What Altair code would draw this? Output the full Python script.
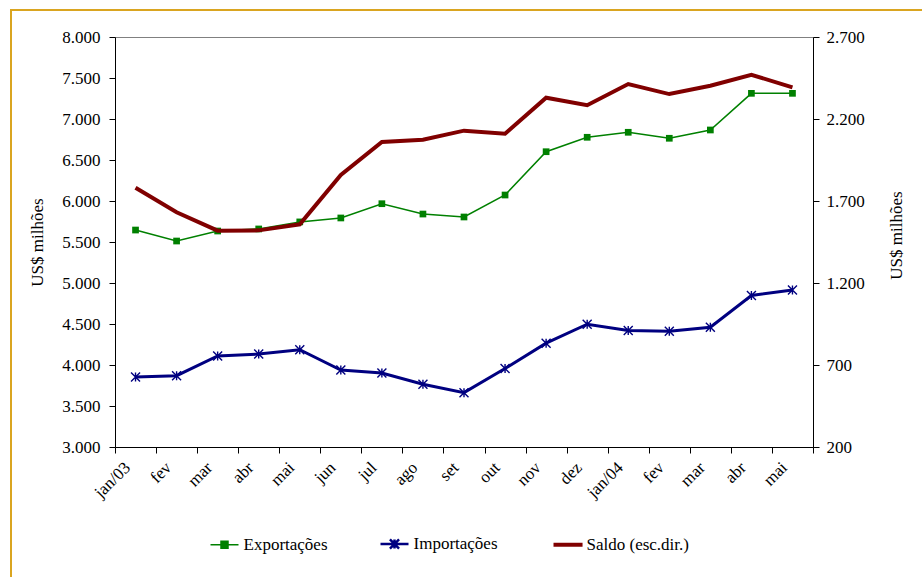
import altair as alt
import pandas as pd

meses = ["jan/03", "fev", "mar", "abr", "mai", "jun", "jul", "ago", "set", "out",
         "nov", "dez", "jan/04", "fev", "mar", "abr", "mai"]
exportacoes = [5646, 5512, 5634, 5659, 5745, 5793, 5967, 5841, 5805, 6073,
               6601, 6777, 6838, 6765, 6866, 7313, 7313]
importacoes = [3854, 3870, 4110, 4134, 4187, 3939, 3902, 3765, 3663, 3957,
               4266, 4497, 4420, 4412, 4461, 4847, 4915]
saldo = [1781, 1631, 1519, 1521, 1558, 1859, 2060, 2074, 2129, 2110,
         2330, 2284, 2413, 2352, 2403, 2470, 2393]
series = ["Exportações", "Importações", "Saldo (esc.dir.)"]
cores = ["#008000", "#000080", "#800000"]
ticks_esq = [3000, 3500, 4000, 4500, 5000, 5500, 6000, 6500, 7000, 7500, 8000]
ticks_dir = [200, 700, 1200, 1700, 2200, 2700]

FONT = "Liberation Serif, Times New Roman, Times, DejaVu Serif, serif"
FS = 17

df = pd.DataFrame({
    "idx": list(range(len(meses))),
    "exp": exportacoes,
    "imp": importacoes,
    "sal": saldo,
})

label_expr_x = "[" + ",".join("'%s'" % m for m in meses) + "][datum.value]"
num_expr = "replace(format(datum.value, ','), ',', '.')"

x_enc = alt.X(
    "idx:O",
    scale=alt.Scale(type="band", paddingInner=0, paddingOuter=0),
    axis=alt.Axis(
        title=None, tickBand="extent", labelAngle=-45, labelExpr=label_expr_x,
        domainColor="black", tickColor="black", tickSize=6, labelPadding=6,
        labelOffset=-14,
        labelFont=FONT, labelFontSize=FS, labelColor="black",
    ),
)

axis_esq = alt.Axis(
    values=ticks_esq, labelExpr=num_expr, grid=False,
    domainColor="black", tickColor="black", tickSize=6, labelPadding=9,
    labelFont=FONT, labelFontSize=FS, labelColor="black",
    title="US$ milhões", titleFont=FONT, titleFontSize=FS, titleFontWeight="normal",
    titleColor="black", titleX=-78, titleY=205, titleAngle=270,
    titleBaseline="middle", titleAlign="center",
)
axis_dir = alt.Axis(
    orient="right", values=ticks_dir, labelExpr=num_expr, grid=False,
    domainColor="black", tickColor="black", tickSize=6, labelPadding=7,
    labelFont=FONT, labelFontSize=FS, labelColor="black",
    title="US$ milhões", titleFont=FONT, titleFontSize=FS, titleFontWeight="normal",
    titleColor="black", titleX=83, titleY=198, titleAngle=270,
    titleBaseline="middle", titleAlign="center",
)
y_esq_scale = alt.Scale(domain=[3000, 8000], nice=False, zero=False)
y_dir_scale = alt.Scale(domain=[200, 2700], nice=False, zero=False)

base = alt.Chart(df)

exp_line = base.mark_line(color=cores[0], strokeWidth=1.5).encode(
    x=x_enc, y=alt.Y("exp:Q", scale=y_esq_scale, axis=axis_esq))
exp_pts = base.mark_point(shape="square", filled=True, color=cores[0], size=45, opacity=1).encode(
    x=x_enc, y=alt.Y("exp:Q", scale=y_esq_scale, axis=axis_esq))

star = "M0,-1V1M-1,-1L1,1M-1,1L1,-1"
imp_line = base.mark_line(color=cores[1], strokeWidth=3).encode(
    x=x_enc, y=alt.Y("imp:Q", scale=y_esq_scale, axis=axis_esq))
imp_pts = base.mark_point(shape=star, filled=False, color=cores[1], size=81,
                          strokeWidth=1.4, opacity=1).encode(
    x=x_enc, y=alt.Y("imp:Q", scale=y_esq_scale, axis=axis_esq))

# legend-only layer (no visible points: y is null)
leg_df = pd.DataFrame({"serie": series, "idx": [0, 0, 0], "exp": [None, None, None]})
leg = alt.Legend(
    title=None, orient="none", legendX=101, legendY=498, direction="horizontal",
    symbolSize=49, labelOffset=10.5, columnPadding=47, padding=0, rowPadding=0,
    labelFont=FONT, labelFontSize=FS, labelColor="black",
)
shape_paths = [
    "M-4,0H4M-1,-1H1V1H-1Z",
    "M-4,0H4M0,-1.3V1.3M-1.3,-1.3L1.3,1.3M-1.3,1.3L1.3,-1.3",
    "M-4,0H4.3",
]
legend_layer = alt.Chart(leg_df).mark_point(filled=True, opacity=1).encode(
    x=x_enc,
    y=alt.Y("exp:Q", scale=y_esq_scale, axis=axis_esq),
    shape=alt.Shape("serie:N", scale=alt.Scale(domain=series, range=shape_paths), legend=leg),
    stroke=alt.Stroke("serie:N", scale=alt.Scale(domain=series, range=cores), legend=leg),
    fill=alt.Fill("serie:N", scale=alt.Scale(domain=series, range=cores), legend=leg),
    strokeWidth=alt.StrokeWidth("serie:N", scale=alt.Scale(type="ordinal", domain=series,
                                                           range=[1.5, 2.5, 4]), legend=leg),
)

border_df = pd.DataFrame({"k": [0]})
border_left = alt.Chart(border_df).mark_rule(color="#DAA520", strokeWidth=2).encode(
    x=alt.value(-104), y=alt.value(-28), y2=alt.value(560))
border_top = alt.Chart(border_df).mark_rule(color="#DAA520", strokeWidth=2).encode(
    x=alt.value(-105), x2=alt.value(830), y=alt.value(-27))

left = alt.layer(exp_line, imp_line, imp_pts, exp_pts, legend_layer, border_left, border_top)

sal_line = base.mark_line(color=cores[2], strokeWidth=4).encode(
    x=x_enc, y=alt.Y("sal:Q", scale=y_dir_scale, axis=axis_dir))

chart = alt.layer(left, sal_line).resolve_scale(y="independent").properties(
    width=698, height=410,
    autosize=alt.AutoSizeParams(type="none"),
    padding={"left": 115, "top": 37, "right": 109, "bottom": 130},
    background="white",
).configure_view(stroke="#808080", strokeWidth=1)

chart.save("out.html", embed_options={"renderer": "svg", "actions": False})
